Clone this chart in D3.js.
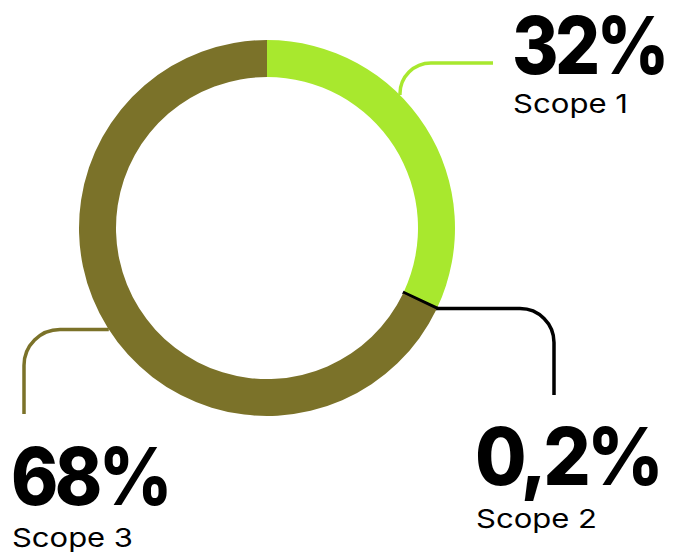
<!DOCTYPE html>
<html><head><meta charset="utf-8">
<script src="https://cdn.jsdelivr.net/npm/d3@7"></script>
<style>html,body{margin:0;padding:0;background:#fff;}svg{display:block;}</style>
</head><body>
<svg id="c" width="674" height="552"></svg>
<script>
const categories = ["Scope 1", "Scope 2", "Scope 3"];
const values = [32, 0.2, 68];
const valueLabels = ["32%", "0,2%", "68%"];
const colors = ["#a8e82e", "#000000", "#7b7229"];

const W = 674, H = 552;
const cx = 267, cy = 228, R = 188, r = 151;
const svg = d3.select("#c");
const g = svg.append("g").attr("transform", `translate(${cx},${cy})`);

const pie = d3.pie().sort(null).value(d => d)(values);
const arc = d3.arc().innerRadius(r).outerRadius(R);

g.selectAll("path.slice").data(pie).join("path")
  .attr("class","slice")
  .attr("d", arc)
  .attr("fill", (d,i) => colors[i])
  .attr("stroke", (d,i) => i === 1 ? colors[i] : "none")
  .attr("stroke-width", 1.5);

// leader lines (layout)
const leaders = [
  {ang: 45 * Math.PI/180, pts: (x0,y0) => { const p = d3.path(); p.moveTo(x0,y0); p.arcTo(x0, 63, 493, 63, 31); p.lineTo(493,63); return p; }},
  {ang: null, pts: (x0,y0) => { const p = d3.path(); p.moveTo(x0,y0); p.arcTo(554, y0, 554, 395, 34); p.lineTo(554,395); return p; }},
  {ang: 237.3 * Math.PI/180, pts: (x0,y0) => { const p = d3.path(); p.moveTo(x0,y0); p.arcTo(24, y0, 24, 414, 36); p.lineTo(24,414); return p; }}
];
leaders.forEach((L,i) => {
  const a = L.ang === null ? (pie[i].startAngle + pie[i].endAngle)/2 : L.ang;
  const x0 = cx + R*Math.sin(a), y0 = cy - R*Math.cos(a);
  svg.append("path").attr("d", L.pts(x0,y0).toString())
    .attr("fill","none").attr("stroke", colors[i]).attr("stroke-width", 3.5);
});

const labelPos = [
  {x: 512, y1: 74, y2: 113},
  {x: 475, y1: 485, y2: 528},
  {x: 11, y1: 505, y2: 547}
];
const numW = [154, 185, 158];
const catW = [115, 121, 121];
labelPos.forEach((p,i) => {
  svg.append("text").attr("x", p.x).attr("y", p.y1)
    .attr("font-family","Inter, 'Noto Sans', sans-serif").attr("font-weight", 800)
    .attr("font-size", 80).attr("fill","#000")
    .attr("letter-spacing", -4)
    .attr("textLength", numW[i]).attr("lengthAdjust","spacingAndGlyphs")
    .text(valueLabels[i]);
  svg.append("text").attr("x", p.x + 1).attr("y", p.y2)
    .attr("font-family","Inter, 'Noto Sans', sans-serif").attr("font-weight", 400)
    .attr("font-size", 26).attr("fill","#000")
    .attr("textLength", catW[i]).attr("lengthAdjust","spacingAndGlyphs")
    .text(categories[i]);
});
</script>
</body></html>
